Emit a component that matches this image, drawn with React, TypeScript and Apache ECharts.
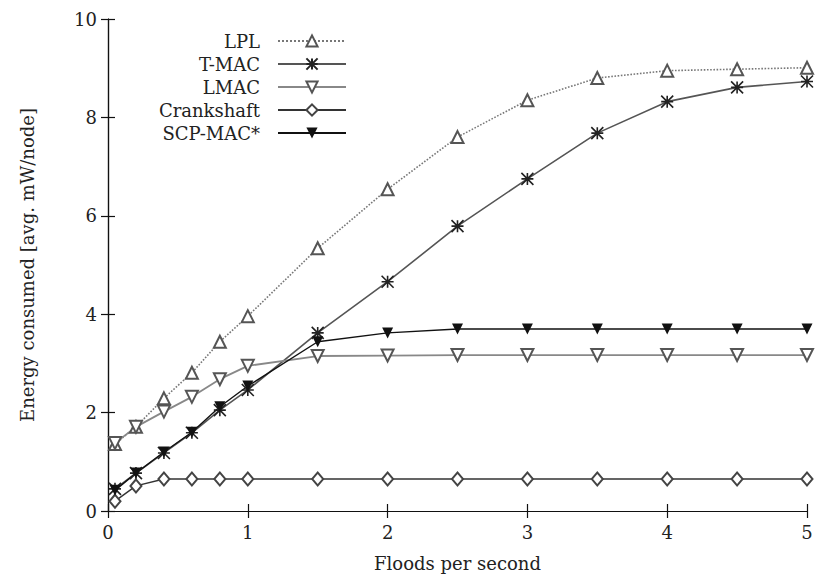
import React, { useEffect, useRef } from "react";
import * as echarts from "echarts";

const floods = [0.05, 0.2, 0.4, 0.6, 0.8, 1, 1.5, 2, 2.5, 3, 3.5, 4, 4.5, 5];
const lpl = [1.36, 1.71, 2.29, 2.81, 3.44, 3.96, 5.34, 6.54, 7.6, 8.35, 8.8, 8.95, 8.98, 9.01];
const tmac = [0.45, 0.77, 1.18, 1.59, 2.05, 2.46, 3.62, 4.66, 5.79, 6.75, 7.68, 8.32, 8.61, 8.73];
const lmac = [1.38, 1.71, 2.02, 2.32, 2.68, 2.95, 3.15, 3.16, 3.17, 3.17, 3.17, 3.17, 3.17, 3.17];
const crankshaft = [0.2, 0.51, 0.65, 0.65, 0.65, 0.65, 0.65, 0.65, 0.65, 0.65, 0.65, 0.65, 0.65, 0.65];
const scpmac = [0.42, 0.77, 1.2, 1.6, 2.12, 2.54, 3.44, 3.62, 3.7, 3.7, 3.7, 3.7, 3.7, 3.7];

const xTicks = [0, 1, 2, 3, 4, 5];
const yTicks = [0, 2, 4, 6, 8, 10];

const FONT = "DejaVu Serif";
const ASTERISK = "path://M0,0L10,10M10,0L0,10M0,5L10,5M5,0L5,10";

const pair = (ys: number[]) => floods.map((x, i) => [x, ys[i]]);

export default function App() {
  const ref = useRef<HTMLDivElement>(null);
  useEffect(() => {
    if (!ref.current) return;
    const chart = echarts.init(ref.current, null, { renderer: "svg" });
    const axisLine = { show: true, lineStyle: { color: "#111", width: 1.2 } };
    const tick = { show: true, inside: true, length: 7, lineStyle: { color: "#111", width: 1.2 } };
    chart.setOption({
      animation: false,
      backgroundColor: "#fff",
      textStyle: { fontFamily: FONT },
      grid: { left: 108, right: 14, top: 19, bottom: 74 },
      legend: {
        orient: "vertical",
        align: "right",
        right: 469,
        top: 27,
        itemWidth: 68,
        itemHeight: 14,
        itemGap: 5,
        textStyle: { fontFamily: FONT, fontSize: 18, color: "#222", padding: [0, 13, 0, 0] },
        data: ["LPL", "T-MAC", "LMAC", "Crankshaft", "SCP-MAC*"],
      },
      xAxis: [
        {
          type: "value",
          min: xTicks[0],
          max: xTicks[xTicks.length - 1],
          interval: 1,
          name: "Floods per second",
          nameLocation: "middle",
          nameGap: 43,
          nameTextStyle: { fontFamily: FONT, fontSize: 18, color: "#222" },
          axisLine,
          axisTick: tick,
          splitLine: { show: false },
          axisLabel: { fontFamily: FONT, fontSize: 18, color: "#222", margin: 12 },
        },
        {
          type: "value",
          position: "top",
          min: xTicks[0],
          max: xTicks[xTicks.length - 1],
          interval: 1,
          axisLine,
          axisTick: tick,
          splitLine: { show: false },
          axisLabel: { show: false },
        },
      ],
      yAxis: [
        {
          type: "value",
          min: yTicks[0],
          max: yTicks[yTicks.length - 1],
          interval: 2,
          name: "Energy consumed [avg. mW/node]",
          nameLocation: "middle",
          nameGap: 72,
          nameTextStyle: { fontFamily: FONT, fontSize: 18, color: "#222" },
          axisLine,
          axisTick: tick,
          splitLine: { show: false },
          axisLabel: { fontFamily: FONT, fontSize: 18, color: "#222", margin: 11 },
        },
        {
          type: "value",
          position: "right",
          min: yTicks[0],
          max: yTicks[yTicks.length - 1],
          interval: 2,
          axisLine,
          axisTick: tick,
          splitLine: { show: false },
          axisLabel: { show: false },
        },
      ],
      series: [
        {
          name: "LPL",
          type: "line",
          data: pair(lpl),
          symbol: "emptyTriangle",
          symbolSize: 12,
          lineStyle: { color: "#777", width: 1.6, type: "dotted" },
          itemStyle: { color: "#555", borderColor: "#444", borderWidth: 1.4 },
        },
        {
          name: "T-MAC",
          type: "line",
          data: pair(tmac),
          symbol: ASTERISK,
          symbolSize: 12,
          lineStyle: { color: "#555", width: 1.6 },
          itemStyle: { color: "#222", borderColor: "#222", borderWidth: 1.6 },
        },
        {
          name: "LMAC",
          type: "line",
          data: pair(lmac),
          symbol: "emptyTriangle",
          symbolRotate: 180,
          symbolSize: 12,
          lineStyle: { color: "#888", width: 1.8 },
          itemStyle: { color: "#555", borderColor: "#444", borderWidth: 1.4 },
        },
        {
          name: "Crankshaft",
          type: "line",
          data: pair(crankshaft),
          symbol: "emptyDiamond",
          symbolSize: [11, 13],
          lineStyle: { color: "#333", width: 1.4 },
          itemStyle: { color: "#444", borderColor: "#444", borderWidth: 1.4 },
        },
        {
          name: "SCP-MAC*",
          type: "line",
          data: pair(scpmac),
          symbol: "triangle",
          symbolRotate: 180,
          symbolSize: 11,
          lineStyle: { color: "#111", width: 1.4 },
          itemStyle: { color: "#111" },
        },
      ],
    });
    return () => chart.dispose();
  }, []);
  return <div ref={ref} style={{ width: 821, height: 585, position: "absolute", left: 0, top: 0 }} />;
}
